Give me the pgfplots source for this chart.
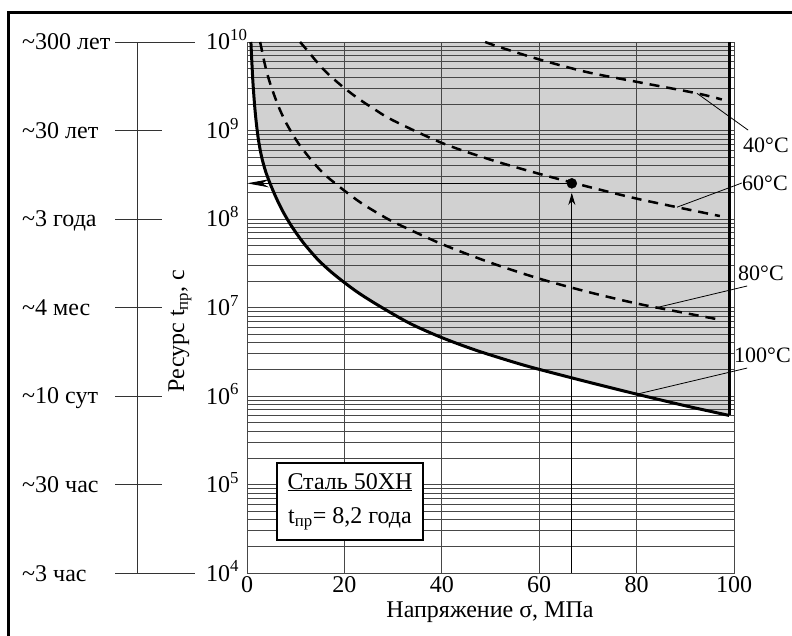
\documentclass[border=0pt]{standalone}
\usepackage{fontspec}
\setmainfont{Liberation Serif}
\usepackage{pgfplots}
\pgfplotsset{compat=1.18}
\usetikzlibrary{arrows.meta}
\newcommand\fsz{\fontsize{24}{28}\selectfont}
\newcommand\fsl{\fontsize{22}{26}\selectfont}

\begin{document}
\begin{tikzpicture}[x=1pt, y=1pt, font=\fsz]

% outer frame (cropped on right and bottom)
\draw[line width=3pt] (8,-10) -- (8,622) -- (800,622);

% secondary time scale
\draw[black!80, line width=0.9pt] (137,62) -- (137,593);
\draw[black!80, line width=0.9pt] (115,593) -- (195,593);
\draw[black!80, line width=0.9pt] (115,62) -- (195,62);
\foreach \yy in {150.5,239,327.5,416,504.5}
  \draw[black!80, line width=0.9pt] (115,\yy) -- (162,\yy);
\foreach \yy/\txt in {593/300 лет, 504.5/30 лет, 416/3 года, 327.5/4 мес,
                      239/10 сут, 150.5/30 час, 62/3 час}
  \node[anchor=base west, inner sep=0pt] at (22,\yy-8) {\textasciitilde\txt};

\begin{axis}[
    at={(247pt,62pt)}, anchor=south west,
    scale only axis, width=487pt, height=531pt,
    set layers, clip=false,
    xmin=0, xmax=100,
    ymode=log, ymin=1e4, ymax=1e10,
    xtick={0,20,40,60,80,100},
    xticklabels={0,20,40,60,80,100},
    ytick={1e4,1e5,1e6,1e7,1e8,1e9,1e10},
    yticklabels={10\textsuperscript{4},10\textsuperscript{5},10\textsuperscript{6},
                 10\textsuperscript{7},10\textsuperscript{8},10\textsuperscript{9},
                 10\textsuperscript{10}},
    minor ytick={2e4,3e4,4e4,5e4,6e4,7e4,8e4,9e4,
                 2e5,3e5,4e5,5e5,6e5,7e5,8e5,9e5,
                 2e6,3e6,4e6,5e6,6e6,7e6,8e6,9e6,
                 2e7,3e7,4e7,5e7,6e7,7e7,8e7,9e7,
                 2e8,3e8,4e8,5e8,6e8,7e8,8e8,9e8,
                 2e9,3e9,4e9,5e9,6e9,7e9,8e9,9e9},
    xmajorgrids, ymajorgrids, yminorgrids,
    major grid style={black!72, line width=0.8pt},
    minor grid style={black!72, line width=0.7pt},
    axis line style={black!72, line width=0.8pt},
    major tick length=0pt, minor tick length=0pt,
    tick label style={font=\fsz},
    yticklabel style={anchor=base west, inner sep=0pt, xshift=-41pt, yshift=-8pt},
]

% shaded region above the 100 C curve
\addplot[fill=black!18, draw=none, on layer=axis background] coordinates {
    (0.8,1e10) (1.2,3.63e9) (1.7,1.58e9) (2.3,8.17e8) (3.0,5.04e8)
    (3.8,3.48e8) (4.7,2.55e8) (6.0,1.73e8) (7.5,1.18e8) (9.2,8.22e7)
    (11.5,5.45e7) (14.4,3.55e7) (17,2.60e7) (19.7,1.97e7) (23,1.45e7)
    (27.3,1.03e7) (33.5,6.59e6) (40,4.57e6) (47,3.29e6) (55,2.39e6)
    (60,2.00e6) (70,1.44e6) (80,1.05e6) (90,7.76e5) (99,6.03e5) (99,1e10)
} -- cycle;

% measuring lines
\addplot[black, line width=0.9pt] coordinates {(66.7,1e4) (66.7,1.9e8)};
\addplot[black, line width=0.9pt, -{Stealth[length=12pt, width=7pt]}]
    coordinates {(66.7,1.5e8) (66.7,1.97e8)};
\addplot[black, line width=0.9pt, -{Stealth[length=22pt, width=8pt]}]
    coordinates {(66.7,2.53e8) (0,2.53e8)};

% 40 C
\addplot[black, line width=2.5pt, dash pattern=on 10pt off 7pt, smooth] coordinates {
    (48.9,1e10) (52,8.71e9) (60.2,6.31e9) (69.8,4.57e9) (80,3.55e9)
    (92.4,2.63e9) (97.5,2.24e9)
};
% 60 C
\addplot[black, line width=2.5pt, dash pattern=on 10pt off 7pt, smooth] coordinates {
    (10.9,1e10) (12.3,8.13e9) (15.7,4.90e9) (19.1,3.31e9) (22.5,2.37e9)
    (26.3,1.72e9) (30,1.30e9) (40,7.24e8) (50,4.68e8) (60,3.24e8)
    (70,2.32e8) (80,1.70e8) (90,1.30e8) (97.1,1.08e8)
};
% 80 C
\addplot[black, line width=2.5pt, dash pattern=on 10pt off 7pt, smooth] coordinates {
    (2.7,1e10) (3.7,5.50e9) (4.7,3.47e9) (6.4,1.91e9) (8.1,1.20e9)
    (10.5,7.24e8) (13.3,4.57e8) (16,3.16e8) (20,2.09e8) (23.5,1.51e8)
    (27,1.15e8) (30.7,8.91e7) (40,5.21e7) (50,3.21e7) (60,2.12e7)
    (70,1.50e7) (80,1.11e7) (90,8.65e6) (97.5,7.21e6)
};
% 100 C
\addplot[black, line width=3pt, smooth] coordinates {
    (0.8,1e10) (1.2,3.63e9) (1.7,1.58e9) (2.3,8.17e8) (3.0,5.04e8)
    (3.8,3.48e8) (4.7,2.55e8) (6.0,1.73e8) (7.5,1.18e8) (9.2,8.22e7)
    (11.5,5.45e7) (14.4,3.55e7) (17,2.60e7) (19.7,1.97e7) (23,1.45e7)
    (27.3,1.03e7) (33.5,6.59e6) (40,4.57e6) (47,3.29e6) (55,2.39e6)
    (60,2.00e6) (70,1.44e6) (80,1.05e6) (90,7.76e5) (99,6.03e5)
};
\addplot[black, line width=3pt] coordinates {(99,6.03e5) (99,1e10)};

% service point
\addplot[only marks, mark=*, mark size=5pt, black] coordinates {(66.7,2.53e8)};

% leader lines
\draw[black, line width=0.8pt] (axis cs:92.4,2.63e9) -- (axis cs:102.9,1.01e9);
\draw[black, line width=0.8pt] (axis cs:88.3,1.36e8) -- (axis cs:101.6,2.55e8);
\draw[black, line width=0.8pt] (axis cs:84.2,1.0e7) -- (axis cs:102.7,1.75e7);
\draw[black, line width=0.8pt] (axis cs:80.1,1.05e6) -- (axis cs:102.7,2.07e6);
\end{axis}

% curve labels
\node[anchor=west, inner sep=0pt, font=\fsl] at (743,490) {40°C};
\node[anchor=west, inner sep=0pt, font=\fsl] at (742,452) {60°C};
\node[anchor=west, inner sep=0pt, font=\fsl] at (738,362) {80°C};
\node[anchor=west, inner sep=0pt, font=\fsl] at (734,280) {100°C};

% axis titles
\node[rotate=90] at (180,304) {Ресурс t\textsubscript{пр}, с};
\node at (490,23) {Напряжение σ, МПа};

% material box
\draw[line width=2.8pt, fill=white] (277,95) rectangle (423,172);
\node[anchor=base, inner sep=0pt] at (350,146) {\underline{Сталь 50ХН}};
\node[anchor=base, inner sep=0pt] at (350,112) {t\textsubscript{пр}= 8,2 года};

\pgfresetboundingbox
\path[use as bounding box] (0,0) rectangle (792,635);
\end{tikzpicture}
\end{document}
